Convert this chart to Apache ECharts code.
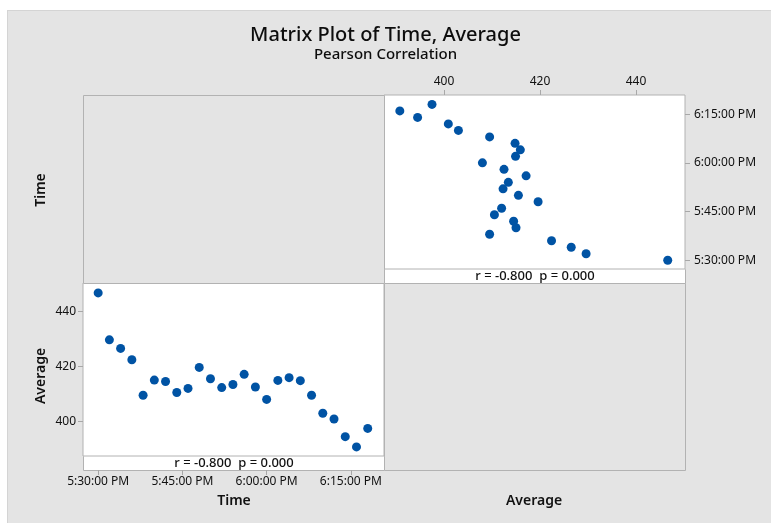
<!DOCTYPE html>
<html><head><meta charset="utf-8">
<script src="https://cdn.jsdelivr.net/npm/echarts@6/dist/echarts.min.js"></script>
<style>
html,body{margin:0;padding:0;background:#fff;}
#bg{position:absolute;left:7px;top:10px;width:763px;height:512px;background:#e4e4e4;border-left:1px solid #d4d4d4;border-top:1px solid #d4d4d4;}
#c{position:absolute;left:0;top:0;width:771px;height:523px;}
</style>
</head><body><div id="bg"></div><div id="c"></div>
<script>
// Data (Time as clock time, Average value)
const timeValues = ["17:30","17:32","17:34","17:36","17:38","17:40","17:42","17:44","17:46","17:48","17:50","17:52","17:54","17:56","17:58","18:00","18:02","18:04","18:06","18:08","18:10","18:12","18:14","18:16","18:18"];
const averageValues = [446.6,429.6,426.5,422.4,409.5,415.0,414.5,410.5,412.0,419.6,415.5,412.3,413.4,417.1,412.5,408.0,414.9,415.9,414.8,409.5,403.0,400.9,394.5,390.8,397.5];
const timeTicks = ["17:30","17:45","18:00","18:15"];
const averageTicks = [400,420,440];
const corrText = "r = -0.800  p = 0.000";

const toMin = s => { const [h,m] = s.split(':').map(Number); return h*60+m; };
const fmtTime = v => { const h = Math.floor(v/60), m = Math.round(v - h*60); const hh = h>12?h-12:h; return hh + ':' + String(m).padStart(2,'0') + ':00 ' + (h>=12?'PM':'AM'); };

const tMin = timeValues.map(toMin);
const tickMin = timeTicks.map(toMin);
const FONT = 'Noto Sans';
const TXT = '#111';
const BORDER = '#b2b2b2';
const TMIN = 1047.3, TMAX = 1100.9;
const AMIN = 387.5, AMAX = 450.2;
const DOT = '#0053a4';

const tickStyle = {show:true, inside:false, length:5, lineStyle:{color:'#a8a8a8'}};
const lbl = {color:TXT, fontFamily:FONT, fontSize:12};

const chart = echarts.init(document.getElementById('c'), null, {renderer:'canvas'});
chart.setOption({
  animation:false,
  title:{
    text:'Matrix Plot of Time, Average', subtext:'Pearson Correlation', left:'center', top:20, itemGap:2,
    textStyle:{fontFamily:FONT, fontSize:20, fontWeight:500, color:'#0d0d0d'},
    subtextStyle:{fontFamily:FONT, fontSize:15, fontWeight:500, color:'#0d0d0d'}
  },
  grid:[
    {left:83, top:283, width:301, height:173, show:true, backgroundColor:'#fff', borderColor:BORDER, borderWidth:1},
    {left:384, top:95, width:301, height:174, show:true, backgroundColor:'#fff', borderColor:BORDER, borderWidth:1}
  ],
  xAxis:[
    {gridIndex:0, type:'value', min:TMIN, max:TMAX, position:'bottom', offset:14,
     axisLine:{show:false}, splitLine:{show:false}, axisTick:Object.assign({customValues:tickMin}, tickStyle),
     axisLabel:Object.assign({customValues:tickMin, formatter:fmtTime, margin:6}, lbl)},
    {gridIndex:1, type:'value', min:AMIN, max:AMAX, position:'top',
     axisLine:{show:false}, splitLine:{show:false}, axisTick:Object.assign({customValues:averageTicks}, tickStyle),
     axisLabel:Object.assign({customValues:averageTicks, margin:7}, lbl)}
  ],
  yAxis:[
    {gridIndex:0, type:'value', min:AMIN, max:AMAX, position:'left',
     axisLine:{show:false}, splitLine:{show:false}, axisTick:Object.assign({customValues:averageTicks}, tickStyle),
     axisLabel:Object.assign({customValues:averageTicks, margin:7}, lbl)},
    {gridIndex:1, type:'value', min:TMIN, max:TMAX, position:'right',
     axisLine:{show:false}, splitLine:{show:false}, axisTick:Object.assign({customValues:tickMin}, tickStyle),
     axisLabel:Object.assign({customValues:tickMin, formatter:fmtTime, margin:9}, lbl)}
  ],
  series:[
    {type:'scatter', xAxisIndex:0, yAxisIndex:0, symbolSize:9, itemStyle:{color:DOT, opacity:1},
     data:tMin.map((t,i)=>[t, averageValues[i]])},
    {type:'scatter', xAxisIndex:1, yAxisIndex:1, symbolSize:9, itemStyle:{color:DOT, opacity:1},
     data:tMin.map((t,i)=>[averageValues[i], t])}
  ],
  graphic:[
    // empty diagonal panels
    {type:'rect', shape:{x:83.5, y:95.5, width:301, height:188}, style:{fill:'#e4e4e4', stroke:BORDER, lineWidth:1}},
    {type:'rect', shape:{x:384.5, y:283.5, width:301, height:187}, style:{fill:'#e4e4e4', stroke:BORDER, lineWidth:1}},
    // correlation bands
    {type:'rect', shape:{x:83.5, y:456.5, width:301, height:14}, style:{fill:'#fff', stroke:BORDER, lineWidth:1}},
    {type:'line', shape:{x1:84, y1:456.5, x2:384, y2:456.5}, style:{stroke:'#d8d8d8', lineWidth:1}},
    {type:'rect', shape:{x:384.5, y:269.5, width:301, height:14}, style:{fill:'#fff', stroke:BORDER, lineWidth:1}},
    {type:'line', shape:{x1:385, y1:269.5, x2:685, y2:269.5}, style:{stroke:'#d8d8d8', lineWidth:1}},
    {type:'text', x:234, y:463.5, style:{text:corrText, fill:TXT, font:'500 13px "Noto Sans"', textAlign:'center', textVerticalAlign:'middle'}},
    {type:'text', x:535, y:276.5, style:{text:corrText, fill:TXT, font:'500 13px "Noto Sans"', textAlign:'center', textVerticalAlign:'middle'}},
    // variable names
    {type:'text', x:41, y:190, rotation:Math.PI/2, style:{text:'Time', fill:TXT, font:'600 14px "Noto Sans"', textAlign:'center', textVerticalAlign:'middle'}},
    {type:'text', x:41, y:376, rotation:Math.PI/2, style:{text:'Average', fill:TXT, font:'600 14px "Noto Sans"', textAlign:'center', textVerticalAlign:'middle'}},
    {type:'text', x:234, y:501, style:{text:'Time', fill:TXT, font:'600 14px "Noto Sans"', textAlign:'center', textVerticalAlign:'middle'}},
    {type:'text', x:534, y:501, style:{text:'Average', fill:TXT, font:'600 14px "Noto Sans"', textAlign:'center', textVerticalAlign:'middle'}}
  ]
});
</script>
</body></html>
